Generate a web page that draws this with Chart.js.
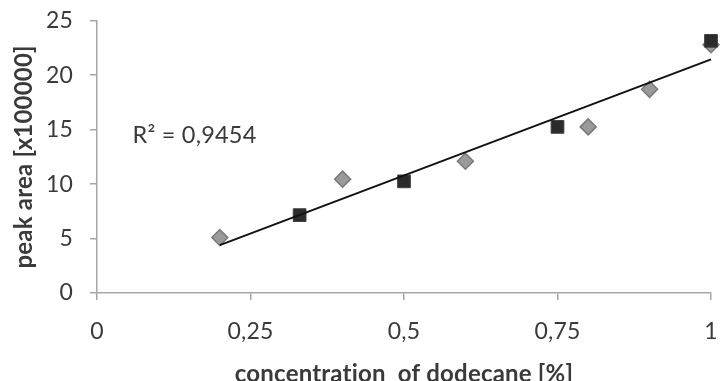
<!DOCTYPE html>
<html><head><meta charset="utf-8">
<script src="https://cdn.jsdelivr.net/npm/chart.js@4"></script>
<style>html,body{margin:0;padding:0;background:#fff}#wrap{width:721px;height:381px}</style>
</head><body><div id="wrap"><canvas id="c" width="721" height="381"></canvas></div>
<script>
const diamondX = [0.2, 0.4, 0.6, 0.8, 0.9, 1.0];
const diamondY = [5.1, 10.45, 12.1, 15.25, 18.7, 22.8];
const squareX = [0.33, 0.5, 0.75, 1.0];
const squareY = [7.15, 10.25, 15.25, 23.15];
const trendX = [0.2, 1.0];
const trendY = [4.4, 21.45];
const xTicks = [0, 0.25, 0.5, 0.75, 1];
const yTicks = [0, 5, 10, 15, 20, 25];
const xTitle = 'concentration  of dodecane [%]';
const yTitle = 'peak area [x100000]';
const r2Text = 'R² = 0,9454';
const r2Pos = {x: 0.058, y: 14.5};

const pts = (xs, ys) => xs.map((x, i) => ({x, y: ys[i]}));
const FONT = 'Lato, "Open Sans", sans-serif';
const TXT = '#3a3a3a';
const AX = '#a6a6a6';

const noLigPlugin = {
  id: 'noLig',
  beforeDraw(chart) {
    const ctx = chart.ctx;
    if ('letterSpacing' in ctx) ctx.letterSpacing = '0.2px';
    if ('textRendering' in ctx) ctx.textRendering = 'optimizeSpeed';
  }
};

const r2Plugin = {
  id: 'r2',
  afterDatasetsDraw(chart) {
    const {ctx, scales} = chart;
    ctx.save();
    ctx.font = '23.5px ' + FONT;
    ctx.fillStyle = TXT;
    ctx.textAlign = 'left';
    ctx.textBaseline = 'middle';
    ctx.fillText(r2Text, scales.x.getPixelForValue(r2Pos.x), scales.y.getPixelForValue(r2Pos.y));
    ctx.restore();
  }
};

new Chart(document.getElementById('c'), {
  type: 'scatter',
  data: {
    datasets: [
      {
        type: 'line', data: pts(trendX, trendY), borderColor: '#111', borderWidth: 2,
        pointRadius: 0, showLine: true, fill: false, order: 0, clip: false
      },
      {
        data: pts(squareX, squareY), pointStyle: 'rect', pointRadius: 9,
        backgroundColor: '#2b2b2b', borderColor: '#404040', borderWidth: 1, order: 1, clip: false
      },
      {
        data: pts(diamondX, diamondY), pointStyle: 'rectRot', pointRadius: 8,
        backgroundColor: '#9a9a9a', borderColor: '#7a7a7a', borderWidth: 1.5, order: 2, clip: false
      }
    ]
  },
  options: {
    responsive: false,
    animation: false,
    layout: {padding: {top: 20.7, right: 8.3, left: 0, bottom: 0}},
    plugins: {legend: {display: false}, tooltip: {enabled: false}},
    scales: {
      x: {
        type: 'linear', min: 0, max: 1,
        afterBuildTicks(s) { s.ticks = xTicks.map(v => ({value: v})); },
        afterFit(s) { s.height = 88; s.paddingLeft = 0; s.paddingRight = 0; },
        ticks: {
          color: TXT, font: {family: FONT, size: 23}, padding: 18,
          callback: v => String(v).replace('.', ',')
        },
        grid: {drawOnChartArea: false, drawTicks: true, tickLength: 7, color: AX, lineWidth: 1.5},
        border: {color: AX, width: 1.5},
        title: {display: true, text: xTitle, color: TXT,
          font: {family: FONT, size: 24, weight: 'bold', lineHeight: 1}, padding: {top: 0, bottom: -5}}
      },
      y: {
        type: 'linear', min: 0, max: 25,
        afterBuildTicks(s) { s.ticks = yTicks.map(v => ({value: v})); },
        afterFit(s) { s.width = 97; s.paddingTop = 0; s.paddingBottom = 0; },
        ticks: {color: TXT, font: {family: FONT, size: 23}, padding: 17},
        grid: {drawOnChartArea: false, drawTicks: true, tickLength: 7, color: AX, lineWidth: 1.5},
        border: {color: AX, width: 1.5},
        title: {display: true, text: yTitle, color: TXT,
          font: {family: FONT, size: 24, weight: 'bold', lineHeight: 1}, padding: {top: 12.5, bottom: 0}}
      }
    }
  },
  plugins: [noLigPlugin, r2Plugin]
});
</script></body></html>
